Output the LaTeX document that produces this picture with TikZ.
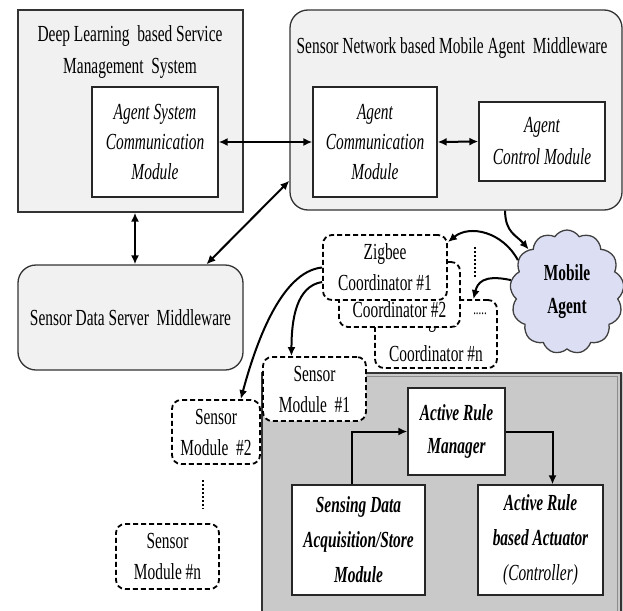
\documentclass[tikz,border=0pt]{standalone}
\usepackage{fontspec}
\setmainfont{Liberation Serif}[FakeStretch=0.67]
\usetikzlibrary{arrows.meta,shapes.symbols,calc}
\definecolor{boxgray}{HTML}{F1F1F1}
\definecolor{panelgray}{HTML}{C9C9C9}
\definecolor{cloudfill}{HTML}{DCDFF3}
\begin{document}
\begin{tikzpicture}[x=1pt,y=-1pt,
  txt/.style={font=\fontsize{23}{31}\selectfont, align=center},
  plainbox/.style={draw=black!85, line width=1.3pt, fill=white, inner sep=0pt, txt},
  graybox/.style={draw=black!80, line width=1.3pt, fill=boxgray, inner sep=0pt},
  roundgray/.style={graybox, rounded corners=18pt},
  dashbox/.style={draw=black, line width=1.8pt, dash pattern=on 5pt off 3pt, rounded corners=9pt, fill=white, inner sep=0pt, txt},
  arr/.style={line width=2pt, -{Latex[length=9pt,width=8pt]}},
  darr/.style={line width=2pt, {Latex[length=9pt,width=8pt]}-{Latex[length=9pt,width=8pt]}},
  dotline/.style={line width=1.8pt, dash pattern=on 1.8pt off 2.2pt}
]
\useasboundingbox (0,0) rectangle (623,610);

% Deep learning system
\node[graybox, minimum width=225pt, minimum height=202pt] (dl) at (130.5,111) {};
\node[txt, font=\fontsize{23}{32}\selectfont] (dltitle) at (130,52) {Deep Learning\ \ based Service\\Management\ \ System};
\node[plainbox, minimum width=126pt, minimum height=110pt, font=\fontsize{23}{30}\selectfont\itshape] (ascm) at (155,142) {Agent System\\Communication\\Module};

% Sensor network middleware
\node[roundgray, minimum width=332pt, minimum height=200pt] (sn) at (456,110) {};
\node[txt] (sntitle) at (452,48) {Sensor Network based Mobile Agent\ \ Middleware};
\node[plainbox, minimum width=124pt, minimum height=110pt, font=\fontsize{23}{30}\selectfont\itshape] (acm) at (375,142) {Agent\\Communication\\Module};
\node[plainbox, minimum width=126pt, minimum height=79pt, font=\fontsize{23}{32}\selectfont\itshape] (actl) at (542,141.5) {Agent\\Control Module};

% Sensor data server middleware
\node[roundgray, minimum width=225pt, minimum height=105pt, txt] (sdsm) at (130.5,317.5) {Sensor Data Server\ \ Middleware};

% Mobile agent cloud
\node[cloud, cloud puffs=13, cloud puff arc=115, aspect=1, draw=black!75, line width=1.3pt, fill=cloudfill,
      minimum width=114pt, minimum height=124pt, inner sep=0pt,
      font=\fontsize{23}{33}\selectfont\bfseries, align=center] (cloud) at (567,292) {Mobile\\Agent};

% Big gray panel
\fill[panelgray] (262,373) rectangle (623,612);
\draw[black!45, line width=1pt] (265.5,376.5) -- (617.5,376.5) -- (617.5,612);
\draw[black!80, line width=1.4pt] (262,612) -- (262,373) -- (621,373) -- (621,612);

% Coordinators (back to front)
\node[dashbox, minimum width=122pt, minimum height=63pt, font=\fontsize{23}{34}\selectfont] (coordn) at (436,334)
  {\raisebox{-4pt}[\height][\depth]{\begin{tabular}{@{}c@{}}Zigbee\\Coordinator \#n\end{tabular}}};
\node[dashbox, minimum width=121pt, minimum height=65pt] (coord2) at (399.5,294.5) {Zigbee\\Coordinator \#2};
\node[dashbox, minimum width=124pt, minimum height=65pt] (coord1) at (385,267.5) {Zigbee\\Coordinator \#1};
\node[txt, font=\fontsize{16}{16}\selectfont] (dotsn) at (480,314) {.....};
\draw[dotline] (475,247) -- (475,277);

% Sensor modules
\node[dashbox, minimum width=103pt, minimum height=64pt] (sm1) at (314.5,389) {Sensor\\Module\ \ \#1};
\node[dashbox, minimum width=88pt, minimum height=64pt] (sm2) at (216,432) {Sensor\\Module\ \ \#2};
\node[dashbox, minimum width=103pt, minimum height=65pt] (smn) at (167.5,556.5) {Sensor\\Module \#n};
\draw[dotline] (203,480) -- (203,509);

% Inner panel modules
\node[plainbox, minimum width=97pt, minimum height=87pt, font=\fontsize{23}{33}\selectfont\bfseries\itshape] (arm) at (456.5,431.5) {Active Rule\\Manager};
\node[plainbox, minimum width=133pt, minimum height=110pt, font=\fontsize{23}{35}\selectfont\bfseries\itshape] (sdam) at (358.5,540) {Sensing Data\\Acquisition/Store\\Module};
\node[plainbox, minimum width=125pt, minimum height=110pt, font=\fontsize{23}{35}\selectfont\bfseries\itshape] (act) at (540.5,540) {Active Rule\\based Actuator\\{\mdseries(Controller)}};

% Connectors
\draw[darr] (ascm.east) -- (acm.west);
\draw[darr] (acm.east) -- (actl.west);
\draw[darr] ($(dl.south)+(4.5,0)$) -- ($(sdsm.north)+(4.5,0)$);
\draw[darr] (sn.203) -- (sdsm.35);
\draw[arr] (sn.296) .. controls +(0,22) and +(-12,-14) .. (cloud.132);
\draw[arr] (cloud.147) .. controls +(-15,-28) and +(22,-18) .. (coord1.22);
\draw[arr] (cloud.168) .. controls +(-28,-6) and +(4,-16) .. (coordn.43);
\draw[arr] (coord1.west) .. controls +(-42,4) and +(14,-52) .. (sm2.53);
\draw[arr] (coord1.193) .. controls +(-26,4) and +(0,-36) .. (sm1.125);
\draw[arr] ($(sdam.north)+(-7,0)$) |- (arm.west);
\draw[arr] (arm.east) -| ($(act.north)+(12,0)$);
\end{tikzpicture}
\end{document}
